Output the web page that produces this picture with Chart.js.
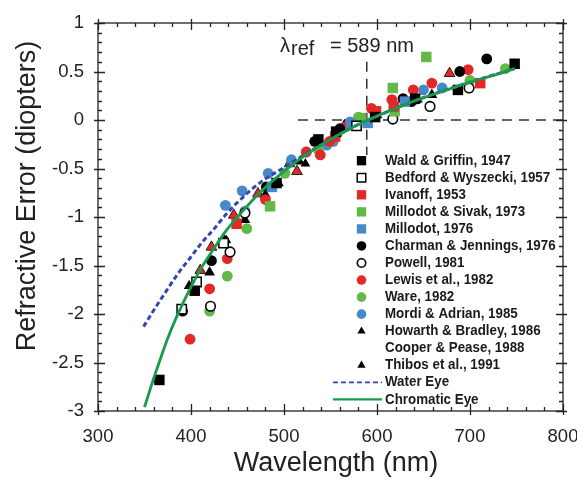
<!DOCTYPE html>
<html>
<head>
<meta charset="utf-8">
<script src="https://cdn.jsdelivr.net/npm/chart.js@4.4.0/dist/chart.umd.min.js"></script>
<style>
  html, body { margin: 0; padding: 0; background: #fff; }
  #wrap { width: 577px; height: 480px; position: relative; }
</style>
</head>
<body>
<div id="wrap"><canvas id="myChart"></canvas></div>
<script>
// axis ticks
var xTickValues = [300, 400, 500, 600, 700, 800];
var xTickLabels = ['300', '400', '500', '600', '700', '800'];
var yTickValues = [-3, -2.5, -2, -1.5, -1, -0.5, 0, 0.5, 1];
var yTickLabels = ['-3', '-2.5', '-2', '-1.5', '-1', '-0.5', '0', '0.5', '1'];

// model curves
var chromaticNm = [350, 355, 360, 365, 375, 385, 400, 412, 425, 437, 450, 475, 500, 525, 550, 575, 600, 625, 650, 675, 700, 725, 748];
var chromaticRx = [-2.96, -2.81, -2.66, -2.52, -2.25, -2.02, -1.72, -1.51, -1.32, -1.15, -1.00, -0.74, -0.53, -0.35, -0.20, -0.07, 0.04, 0.14, 0.23, 0.31, 0.39, 0.46, 0.53];
var waterNm = [349, 362, 375, 387, 400, 412, 425, 437, 450, 475, 500, 525, 550, 575, 600, 650, 700, 748];
var waterRx = [-2.13, -1.93, -1.74, -1.57, -1.41, -1.26, -1.12, -0.98, -0.85, -0.64, -0.49, -0.34, -0.20, -0.07, 0.04, 0.23, 0.39, 0.53];

// reference wavelength lines
var refNm = [589, 589];
var refVertRx = [0.6, -0.36];
var refHorizNm = [515, 800];
var refHorizRx = [0, 0];

// measurements: [wavelength (nm), refractive error (D)]
var waldGriffin = [[366, -2.68], [404, -1.76], [492, -0.65], [537, -0.20], [556, -0.12], [598, 0.03], [641, 0.22], [687, 0.31], [748, 0.58]];
var bedfordWyszecki = [[390, -1.95], [406, -1.67], [435, -1.27], [578, -0.06]];
var ivanoff = [[449, -1.07], [555, -0.17], [599, 0.09], [618, 0.14], [711, 0.38]];
var millodotSivak = [[485, -0.89], [583, 0.02], [617, 0.33], [619, 0.09], [653, 0.65]];
var millodot = [[487, -0.69], [572, -0.04], [590, -0.03], [630, 0.19]];
var charmanJennings = [[391, -1.97], [422, -1.45], [481, -0.69], [533, -0.22], [560, -0.09], [628, 0.22], [637, 0.19], [689, 0.50], [718, 0.63]];
var powell = [[421, -1.92], [442, -1.36], [458, -0.96], [617, 0.01], [657, 0.14], [699, 0.33]];
var lewis = [[399, -2.26], [420, -1.74], [439, -1.43], [480, -0.82], [524, -0.33], [539, -0.36], [549, -0.22], [566, -0.07], [594, 0.12], [616, 0.21], [639, 0.31], [659, 0.38], [698, 0.52]];
var ware = [[420, -1.97], [439, -1.61], [460, -1.12], [501, -0.55], [537, -0.31], [557, -0.14], [580, 0.03], [700, 0.41], [738, 0.53]];
var mordiAdrian = [[437, -0.88], [455, -0.73], [458, -0.94], [483, -0.55], [508, -0.41], [524, -0.33], [546, -0.26], [553, -0.22], [571, -0.02], [650, 0.31], [670, 0.33]];
var howarthBradley = [[398, -1.71], [420, -1.57], [436, -1.24], [458, -1.03], [480, -0.77], [494, -0.65], [565, -0.05], [600, 0.05], [659, 0.26]];
var cooperPease = [[410, -1.55], [422, -1.31], [446, -0.98], [472, -0.76], [506, -0.45], [514, -0.53], [678, 0.48]];
var thibos = [[438, -1.24], [517, -0.43], [523, -0.45], [599, 0.05], [639, 0.19], [644, 0.21]];

var RED = '#e42828', GREEN = '#62b948', BLUE = '#4688c8', BLACK = '#000';

function pts(arr) {
    return arr.map(function (p) { return { x: p[0], y: p[1] }; });
}
function zip(xs, ys) {
    return xs.map(function (x, i) { return { x: x, y: ys[i] }; });
}
function markers(label, data, style, radius, fill, stroke, bw) {
    return {
        label: label, data: pts(data), pointStyle: style, pointRadius: radius,
        pointBackgroundColor: fill, pointBorderColor: stroke, pointBorderWidth: bw,
        showLine: false, order: 0, inLegend: true
    };
}

var datasets = [
    markers('Wald & Griffin, 1947', waldGriffin, 'rect', 7.4, BLACK, BLACK, 0),
    markers('Bedford & Wyszecki, 1957', bedfordWyszecki, 'rect', 6.6, '#fff', BLACK, 1.5),
    markers('Ivanoff, 1953', ivanoff, 'rect', 7.4, RED, RED, 0),
    markers('Millodot & Sivak, 1973', millodotSivak, 'rect', 7.4, GREEN, GREEN, 0),
    markers('Millodot, 1976', millodot, 'rect', 7.4, BLUE, BLUE, 0),
    markers('Charman & Jennings, 1976', charmanJennings, 'circle', 5.4, BLACK, BLACK, 0),
    markers('Powell, 1981', powell, 'circle', 4.8, '#fff', BLACK, 1.6),
    markers('Lewis et al., 1982', lewis, 'circle', 5.4, RED, RED, 0),
    markers('Ware, 1982', ware, 'circle', 5.4, GREEN, GREEN, 0),
    markers('Mordi & Adrian, 1985', mordiAdrian, 'circle', 5.4, BLUE, BLUE, 0),
    markers('Howarth & Bradley, 1986', howarthBradley, 'triangle', 6.2, BLACK, BLACK, 0),
    markers('Cooper & Pease, 1988', cooperPease, 'triangle', 6.2, RED, '#222', 1),
    markers('Thibos et al., 1991', thibos, 'triangle', 5.6, BLACK, BLACK, 0),
    {
        label: 'Water Eye', data: zip(waterNm, waterRx), showLine: true, pointRadius: 0,
        borderColor: '#3546b0', borderWidth: 3, borderDash: [5, 3], fill: false,
        cubicInterpolationMode: 'monotone', order: -1, inLegend: true, legendLine: true
    },
    {
        label: 'Chromatic Eye', data: zip(chromaticNm, chromaticRx), showLine: true, pointRadius: 0,
        borderColor: '#1b9a4c', borderWidth: 2.8, fill: false,
        cubicInterpolationMode: 'monotone', order: -2, inLegend: true, legendLine: true
    },
    {
        label: 'ref-v', data: zip(refNm, refVertRx), showLine: true, pointRadius: 0,
        borderColor: '#333', borderWidth: 1.5, borderDash: [10, 7], order: 5
    },
    {
        label: 'ref-h', data: zip(refHorizNm, refHorizRx), showLine: true, pointRadius: 0,
        borderColor: '#333', borderWidth: 1.5, borderDash: [10, 7], order: 5
    }
];
// legend shows no symbol for this one in the original
datasets[11].legendNoMarker = true;

function markerPath(ctx, style, x, y, r) {
    ctx.beginPath();
    if (style === 'rect') {
        var s = r * Math.SQRT1_2;
        ctx.rect(x - s, y - s, 2 * s, 2 * s);
    } else if (style === 'triangle') {
        ctx.moveTo(x, y - r);
        ctx.lineTo(x + r * 0.866, y + r * 0.5);
        ctx.lineTo(x - r * 0.866, y + r * 0.5);
        ctx.closePath();
    } else {
        ctx.arc(x, y, r, 0, Math.PI * 2);
    }
}

var framePlugin = {
    id: 'frame',
    afterDraw: function (chart) {
        var ctx = chart.ctx;
        var a = chart.chartArea;
        var xs = chart.scales.x, ys = chart.scales.y;
        ctx.save();

        // box + ticks on all four sides
        ctx.strokeStyle = '#222';
        ctx.lineWidth = 1.3;
        ctx.strokeRect(a.left, a.top, a.right - a.left, a.bottom - a.top);
        ctx.beginPath();
        var i, v, p, major;
        for (i = 0; i <= 25; i++) {
            v = 300 + i * 20;
            p = Math.round(xs.getPixelForValue(v)) + 0.5;
            major = i % 5 === 0;
            ctx.moveTo(p, a.bottom + (major ? 4 : 0)); ctx.lineTo(p, a.bottom - (major ? 7 : 4));
            ctx.moveTo(p, a.top - (major ? 4 : 0)); ctx.lineTo(p, a.top + (major ? 7 : 4));
        }
        for (i = 0; i <= 40; i++) {
            v = -3 + i * 0.1;
            p = Math.round(ys.getPixelForValue(v)) + 0.5;
            major = i % 5 === 0;
            ctx.moveTo(a.left - (major ? 4 : 0), p); ctx.lineTo(a.left + (major ? 7 : 4), p);
            ctx.moveTo(a.right + (major ? 4 : 0), p); ctx.lineTo(a.right - (major ? 7 : 4), p);
        }
        ctx.stroke();

        // axis titles
        ctx.fillStyle = '#222';
        ctx.font = '27px "Liberation Sans", Arial, sans-serif';
        ctx.textAlign = 'center';
        ctx.textBaseline = 'middle';
        ctx.fillText('Wavelength (nm)', 336, 464);
        ctx.save();
        ctx.translate(28, 196);
        ctx.rotate(-Math.PI / 2);
        ctx.fillText('Refractive Error (diopters)', 0, 0);
        ctx.restore();

        // reference annotation
        ctx.textAlign = 'left';
        ctx.textBaseline = 'alphabetic';
        ctx.font = '20px "Liberation Sans", Arial, sans-serif';
        ctx.fillText('\u03bb', 280, 52);
        ctx.fillText('ref', 291, 55);
        ctx.fillText('= 589 nm', 330, 52);

        // legend (slightly condensed bold text like the original)
        var rowY = 160.7, step = 17.05;
        ctx.font = 'bold 15px "Liberation Sans", Arial, sans-serif';
        ctx.textBaseline = 'middle';
        chart.data.datasets.forEach(function (ds) {
            if (!ds.inLegend) return;
            var y = rowY;
            rowY += step;
            if (ds.legendLine) {
                ctx.save();
                ctx.strokeStyle = ds.borderColor;
                ctx.lineWidth = ds.borderDash ? 1.8 : 2.2;
                ctx.setLineDash(ds.borderDash ? [5, 3] : []);
                ctx.beginPath();
                ctx.moveTo(333, y); ctx.lineTo(382, y);
                ctx.stroke();
                ctx.restore();
            } else if (!ds.legendNoMarker) {
                var r = ds.pointStyle === 'triangle' ? 4.8 : (ds.pointStyle === 'rect' ? 6.6 : 4.8);
                if (ds.pointBorderWidth) r -= 0.6;
                markerPath(ctx, ds.pointStyle, 361.5, y, r);
                ctx.fillStyle = ds.pointBackgroundColor;
                ctx.fill();
                if (ds.pointBorderWidth) {
                    ctx.lineWidth = ds.pointBorderWidth;
                    ctx.strokeStyle = ds.pointBorderColor;
                    ctx.stroke();
                }
            }
            ctx.save();
            ctx.translate(385, y);
            ctx.scale(0.89, 1);
            ctx.fillStyle = '#1a1a1a';
            ctx.fillText(ds.label, 0, 0);
            ctx.restore();
        });
        ctx.restore();
    }
};

function tickLabel(values, labels) {
    return function (value) {
        for (var i = 0; i < values.length; i++) {
            if (Math.abs(values[i] - value) < 1e-6) return labels[i];
        }
        return '';
    };
}

var ctx = document.getElementById('myChart').getContext('2d');
var myChart = new Chart(ctx, {
    type: 'scatter',
    data: { datasets: datasets },
    plugins: [framePlugin],
    options: {
        responsive: true,
        maintainAspectRatio: false,
        devicePixelRatio: 1,
        animation: false,
        events: [],
        layout: { padding: { left: 0, right: 14, top: 23, bottom: 0 } },
        plugins: { legend: { display: false }, tooltip: { enabled: false } },
        scales: {
            x: {
                type: 'linear', min: 300, max: 800,
                grid: { display: false, drawTicks: false },
                border: { display: false },
                ticks: {
                    stepSize: 100, autoSkip: false, maxRotation: 0, padding: 15,
                    color: '#222', font: { family: '"Liberation Sans", Arial, sans-serif', size: 18.5 },
                    callback: tickLabel(xTickValues, xTickLabels)
                },
                afterFit: function (s) { s.height = 69; s.paddingLeft = 0; s.paddingRight = 0; }
            },
            y: {
                type: 'linear', min: -3, max: 1,
                grid: { display: false, drawTicks: false },
                border: { display: false },
                ticks: {
                    stepSize: 0.5, autoSkip: false, padding: 14,
                    color: '#222', font: { family: '"Liberation Sans", Arial, sans-serif', size: 18.5 },
                    callback: tickLabel(yTickValues, yTickLabels)
                },
                afterFit: function (s) { s.width = 98; s.paddingTop = 0; s.paddingBottom = 0; }
            }
        }
    }
});
</script>
</body>
</html>
